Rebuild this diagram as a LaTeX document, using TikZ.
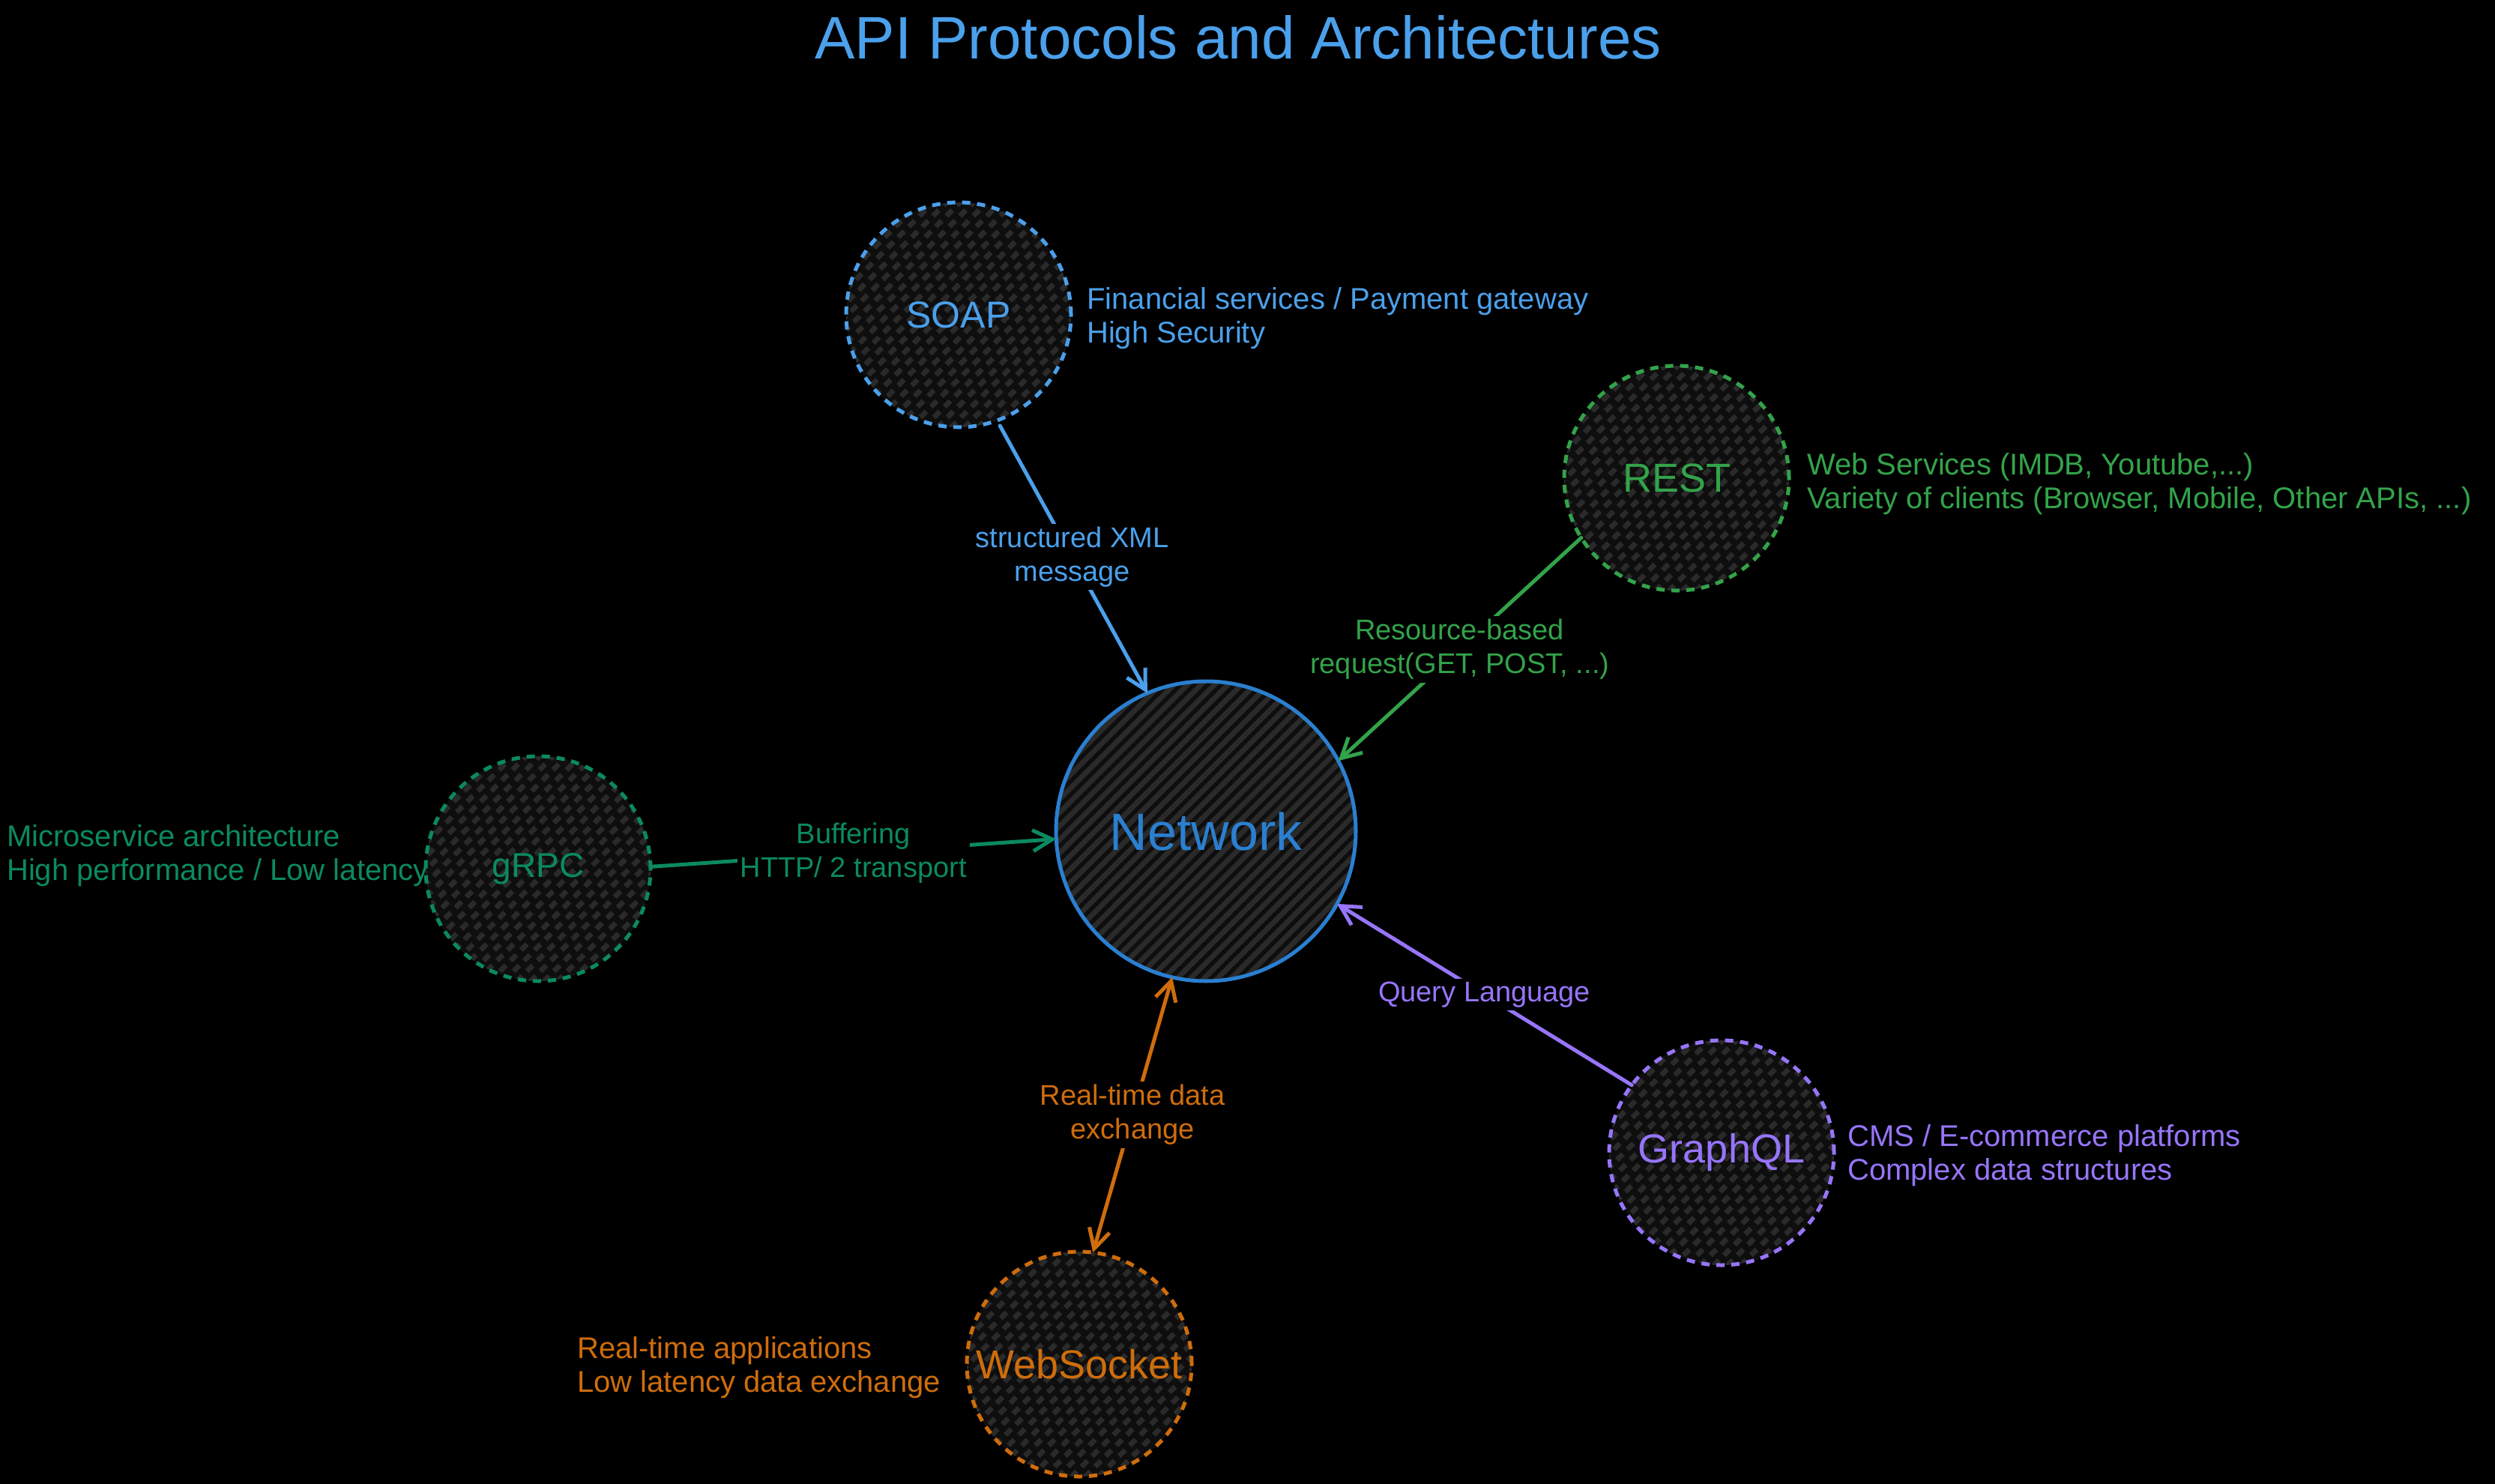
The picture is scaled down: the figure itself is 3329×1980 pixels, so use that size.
\documentclass[tikz,border=0pt]{standalone}
\usepackage{fontspec}
\setmainfont{Liberation Sans}
\usetikzlibrary{arrows.meta}
\definecolor{cSoap}{HTML}{4BA0EB}
\definecolor{cNet}{HTML}{2A7FD0}
\definecolor{cRest}{HTML}{33A34A}
\definecolor{cGrpc}{HTML}{0B8A62}
\definecolor{cGql}{HTML}{9775FA}
\definecolor{cWs}{HTML}{CF6D0C}
\definecolor{cHatch}{HTML}{2A2A2A}
\definecolor{cFill}{HTML}{0E0E0E}
\tikzset{
  hatchcirc/.style={circle, inner sep=0pt, outer sep=0pt, minimum size=#1, fill=cFill,
    path picture={\foreach \k in {-560,-542,...,60}{\draw[cHatch, line width=7pt]
      ([xshift=\k pt, yshift=-250pt]path picture bounding box.center) -- ++(500pt,500pt);}}},
  proto/.style={hatchcirc=300pt, draw=#1, text=#1, line width=5pt, dash pattern=on 11pt off 9pt},
  netcirc/.style={hatchcirc=400pt, draw=cNet, text=cNet, line width=5pt},
  desc/.style={align=left, anchor=base west, inner sep=0pt, font=\fontsize{40}{45}\selectfont},
  lbl/.style={fill=black, align=center, inner sep=4pt, font=\fontsize{38}{45}\selectfont},
  conn/.style={line width=5pt, line cap=round, -{Straight Barb[length=26pt,width=28pt]}},
  connboth/.style={line width=5pt, line cap=round, {Straight Barb[length=26pt,width=28pt]}-{Straight Barb[length=26pt,width=28pt]}}
}
\begin{document}
\begin{tikzpicture}[x=1pt,y=-1pt]
\fill[black] (0,0) rectangle (3329,1980);
\useasboundingbox (0,0) rectangle (3329,1980);

\node[text=cSoap, font=\fontsize{80}{96}\selectfont] (title) at (1652,50) {API Protocols and Architectures};

\node[netcirc, font=\fontsize{70}{80}\selectfont] (net) at (1609,1109) {Network};
\node[proto=cSoap, font=\fontsize{50}{60}\selectfont] (soap) at (1279,420) {SOAP};
\node[proto=cRest, font=\fontsize{54}{60}\selectfont] (rest) at (2237,638) {REST};
\node[proto=cGrpc, font=\fontsize{46}{56}\selectfont] (grpc) at (718,1159) {gRPC};
\node[proto=cGql, font=\fontsize{54}{60}\selectfont] (gql) at (2297,1538) {GraphQL};
\node[proto=cWs, font=\fontsize{54}{60}\selectfont] (ws) at (1440,1820) {WebSocket};

\node[desc, text=cSoap] (soapd) at (1450,457) {Financial services / Payment gateway\\High Security};
\node[desc, text=cRest] (restd) at (2411,678) {Web Services (IMDB, Youtube,...)\\Variety of clients (Browser, Mobile, Other APIs, ...)};
\node[desc, text=cGrpc] (grpcd) at (9,1174) {Microservice architecture\\High performance / Low latency};
\node[desc, text=cGql] (gqld) at (2465,1574) {CMS / E-commerce platforms\\Complex data structures};
\node[desc, text=cWs] (wsd) at (770,1857) {Real-time applications\\Low latency data exchange};

\draw[conn, cSoap, shorten <=8pt] (soap.-70) -- node[lbl, text=cSoap] {structured XML\\message} (net.113.5);
\draw[conn, cRest] (rest.212.4) -- node[lbl, text=cRest] {Resource-based\\request(GET, POST, ...)} (net.28);
\draw[conn, cGrpc] (grpc.1) -- node[lbl, text=cGrpc] {Buffering\\HTTP/ 2 transport} (net.183);
\draw[conn, cGql] (gql.143) -- node[lbl, text=cGql] {Query Language} (net.-29.4);
\draw[connboth, cWs] (net.257) -- node[lbl, text=cWs] {Real-time data\\exchange} (ws.83);
\end{tikzpicture}
\end{document}
